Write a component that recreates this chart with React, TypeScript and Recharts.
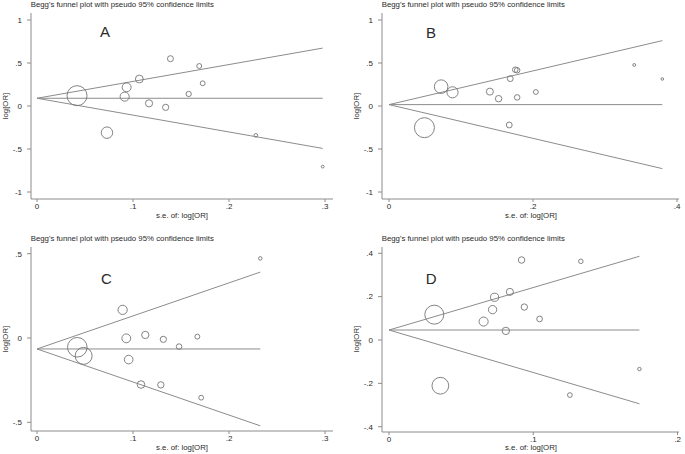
import React from 'react';
import { ScatterChart, Scatter, XAxis, YAxis, ReferenceLine } from 'recharts';

// Panel A
const seA = [0.0417, 0.0729, 0.0913, 0.0934, 0.1066, 0.1167, 0.134, 0.139, 0.158, 0.169, 0.1726, 0.228, 0.2976];
const logOrA = [0.12, -0.31, 0.109, 0.217, 0.314, 0.031, -0.016, 0.55, 0.14, 0.465, 0.264, -0.341, -0.705];
const pooledA = 0.09;

// Panel B
const seB = [0.0492, 0.0724, 0.0882, 0.1401, 0.1522, 0.1684, 0.167, 0.1754, 0.178, 0.178, 0.204, 0.3406, 0.3796];
const logOrB = [-0.252, 0.225, 0.159, 0.167, 0.085, 0.318, -0.221, 0.422, 0.415, 0.1, 0.163, 0.477, 0.314];
const pooledB = 0.016;

// Panel C
const seC = [0.042, 0.0486, 0.0892, 0.093, 0.0955, 0.1128, 0.1083, 0.1316, 0.129, 0.148, 0.167, 0.171, 0.2326];
const logOrC = [-0.055, -0.106, 0.167, -0.002, -0.128, 0.018, -0.276, -0.008, -0.278, -0.051, 0.008, -0.354, 0.472];
const pooledC = -0.065;

// Panel D
const seD = [0.0314, 0.0356, 0.0656, 0.0718, 0.0732, 0.081, 0.0838, 0.0919, 0.0938, 0.1044, 0.1254, 0.133, 0.1736];
const logOrD = [0.117, -0.211, 0.085, 0.14, 0.197, 0.042, 0.222, 0.369, 0.152, 0.097, -0.254, 0.363, -0.134];
const pooledD = 0.046;

const xTicksA = [0, 0.1, 0.2, 0.3];
const xTicksB = [0, 0.2, 0.4];
const xTicksD = [0, 0.1, 0.2];
const yTicksAB = [-1, -0.5, 0, 0.5, 1];
const yTicksC = [-0.5, 0, 0.5];
const yTicksD = [-0.4, -0.2, 0, 0.2, 0.4];

const TITLE = "Begg's funnel plot with pseudo 95% confidence limits";
const FONT = "'Liberation Sans', Arial, sans-serif";
const AXIS = '#8c8c8c';
const MARK = '#757575';
const TEXT = '#2a2a2a';

const stata = (v: number) => (v === 0 ? '0' : String(v).replace('0.', '.'));

type PanelProps = {
  se: number[];
  logOr: number[];
  pooled: number;
  xTicks: number[];
  yTicks: number[];
  left: number;
  top: number;
  width: number;
  margin: { top: number; right: number; left: number; bottom: number };
  yWidth: number;
  xHeight: number;
  xPad: { left: number; right: number };
  yPad: { top: number; bottom: number };
  rMax: number;
};

const Panel: React.FC<PanelProps> = (p) => {
  const data = p.se.map((s, i) => ({ se: s, y: p.logOr[i] }));
  const minSe = Math.min(...p.se);
  const maxSe = Math.max(...p.se);
  const ring = (props: any) => (
    <circle
      cx={props.cx}
      cy={props.cy}
      r={(p.rMax * minSe) / props.payload.se}
      fill="none"
      stroke={MARK}
      strokeWidth={0.9}
    />
  );
  const tick = { fontSize: 8, fill: TEXT, fontFamily: FONT };
  return (
    <div style={{ position: 'absolute', left: p.left, top: p.top }}>
      <ScatterChart width={p.width} height={227} margin={p.margin}>
        <XAxis
          type="number"
          dataKey="se"
          domain={[p.xTicks[0], p.xTicks[p.xTicks.length - 1]]}
          ticks={p.xTicks}
          tickFormatter={stata}
          height={p.xHeight}
          padding={p.xPad}
          stroke={AXIS}
          tickSize={3}
          tickMargin={1}
          tick={tick}
          interval={0}
        />
        <YAxis
          type="number"
          dataKey="y"
          domain={[p.yTicks[0], p.yTicks[p.yTicks.length - 1]]}
          ticks={p.yTicks}
          tickFormatter={stata}
          width={p.yWidth}
          padding={p.yPad}
          stroke={AXIS}
          tickSize={4}
          tickMargin={5}
          tick={tick}
          interval={0}
        />
        <ReferenceLine
          segment={[{ x: 0, y: p.pooled }, { x: maxSe, y: p.pooled }]}
          stroke={AXIS}
          ifOverflow="visible"
        />
        <ReferenceLine
          segment={[{ x: 0, y: p.pooled }, { x: maxSe, y: p.pooled + 1.96 * maxSe }]}
          stroke={AXIS}
          ifOverflow="visible"
        />
        <ReferenceLine
          segment={[{ x: 0, y: p.pooled }, { x: maxSe, y: p.pooled - 1.96 * maxSe }]}
          stroke={AXIS}
          ifOverflow="visible"
        />
        <Scatter data={data} shape={ring} isAnimationActive={false} />
      </ScatterChart>
    </div>
  );
};

const App: React.FC = () => {
  const small = { fontSize: 7.8, fill: TEXT, fontFamily: FONT };
  const big = { fontSize: 15, fill: TEXT, fontFamily: FONT };
  return (
    <div style={{ position: 'absolute', left: 0, top: 0, width: 685, height: 454, background: '#fff' }}>
      <Panel
        se={seA} logOr={logOrA} pooled={pooledA} xTicks={xTicksA} yTicks={yTicksAB}
        left={0} top={0} width={342} margin={{ top: 13, right: 9, left: 0, bottom: 0 }}
        yWidth={31} xHeight={28} xPad={{ left: 6, right: 8 }} yPad={{ top: 7, bottom: 7 }} rMax={10}
      />
      <Panel
        se={seB} logOr={logOrB} pooled={pooledB} xTicks={xTicksB} yTicks={yTicksAB}
        left={340} top={0} width={345} margin={{ top: 13, right: 6, left: 0, bottom: 0 }}
        yWidth={42} xHeight={28} xPad={{ left: 7, right: 2 }} yPad={{ top: 7, bottom: 7 }} rMax={10}
      />
      <Panel
        se={seC} logOr={logOrC} pooled={pooledC} xTicks={xTicksA} yTicks={yTicksC}
        left={0} top={227} width={342} margin={{ top: 20, right: 9, left: 0, bottom: 0 }}
        yWidth={31} xHeight={23} xPad={{ left: 6, right: 8 }} yPad={{ top: 6.7, bottom: 8.7 }} rMax={9.8}
      />
      <Panel
        se={seD} logOr={logOrD} pooled={pooledD} xTicks={xTicksD} yTicks={yTicksD}
        left={340} top={227} width={345} margin={{ top: 20, right: 6, left: 0, bottom: 0 }}
        yWidth={42} xHeight={22} xPad={{ left: 7, right: 1.5 }} yPad={{ top: 6.3, bottom: 5.3 }} rMax={9.5}
      />
      <svg width={685} height={454} style={{ position: 'absolute', left: 0, top: 0, pointerEvents: 'none' }}>
        <text x={30.7} y={7.3} {...small}>{TITLE}</text>
        <text x={381.7} y={7.3} {...small}>{TITLE}</text>
        <text x={30.7} y={241} {...small}>{TITLE}</text>
        <text x={381.7} y={241} {...small}>{TITLE}</text>

        <text x={100} y={37.3} {...big}>A</text>
        <text x={426} y={37.7} {...big}>B</text>
        <text x={101} y={284.3} {...big}>C</text>
        <text x={425.7} y={284.3} {...big}>D</text>

        <text x={182} y={217.7} textAnchor="middle" {...small}>s.e. of: log[OR]</text>
        <text x={531} y={217.7} textAnchor="middle" {...small}>s.e. of: log[OR]</text>
        <text x={182} y={450} textAnchor="middle" {...small}>s.e. of: log[OR]</text>
        <text x={531} y={450} textAnchor="middle" {...small}>s.e. of: log[OR]</text>

        <text x={5} y={106} transform="rotate(-90 5 106)" textAnchor="middle" dominantBaseline="central" {...small}>log[OR]</text>
        <text x={356} y={106} transform="rotate(-90 356 106)" textAnchor="middle" dominantBaseline="central" {...small}>log[OR]</text>
        <text x={5} y={339} transform="rotate(-90 5 339)" textAnchor="middle" dominantBaseline="central" {...small}>log[OR]</text>
        <text x={356} y={339} transform="rotate(-90 356 339)" textAnchor="middle" dominantBaseline="central" {...small}>log[OR]</text>
      </svg>
    </div>
  );
};

export default App;
